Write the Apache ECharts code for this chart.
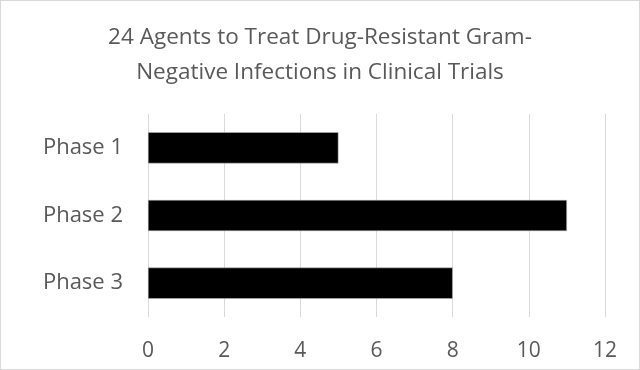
<!DOCTYPE html>
<html><head><meta charset="utf-8">
<script src="https://cdn.jsdelivr.net/npm/echarts@6/dist/echarts.min.js"></script>
<style>html,body{margin:0;padding:0;background:#fff}#c{width:640px;height:370px;box-sizing:border-box;border:1px solid #d9d9d9}</style>
</head><body><div id="c"></div>
<script>
const titleText = "24 Agents to Treat Drug-Resistant Gram-\nNegative Infections in Clinical Trials";
const categories = ["Phase 1", "Phase 2", "Phase 3"];
const values = [5, 11, 8];
const xTicks = [0, 2, 4, 6, 8, 10, 12];

const chart = echarts.init(document.getElementById('c'), null, {renderer: 'canvas'});
chart.setOption({
  animation: false,
  title: {
    text: titleText, left: 'center', top: 14,
    textStyle: {fontFamily: 'Open Sans', fontSize: 22.5, fontWeight: 'normal', color: '#595959', lineHeight: 35}
  },
  grid: {left: 147, right: 34, top: 113, bottom: 52, containLabel: false},
  xAxis: {
    type: 'value', min: xTicks[0], max: xTicks[xTicks.length - 1], interval: 2,
    axisLine: {show: false}, axisTick: {show: false},
    splitLine: {show: true, lineStyle: {color: '#d9d9d9', width: 1}},
    axisLabel: {fontFamily: 'Open Sans', fontSize: 21, color: '#595959', margin: 24}
  },
  yAxis: {
    type: 'category', data: categories, inverse: true,
    axisLine: {show: false}, axisTick: {show: false},
    axisLabel: {fontFamily: 'Open Sans', fontSize: 22, color: '#595959', margin: 25}
  },
  series: [{
    type: 'bar', data: values, barWidth: '46%',
    itemStyle: {color: '#000000', borderColor: '#bfbfbf', borderWidth: 0.5}
  }]
});
</script></body></html>
